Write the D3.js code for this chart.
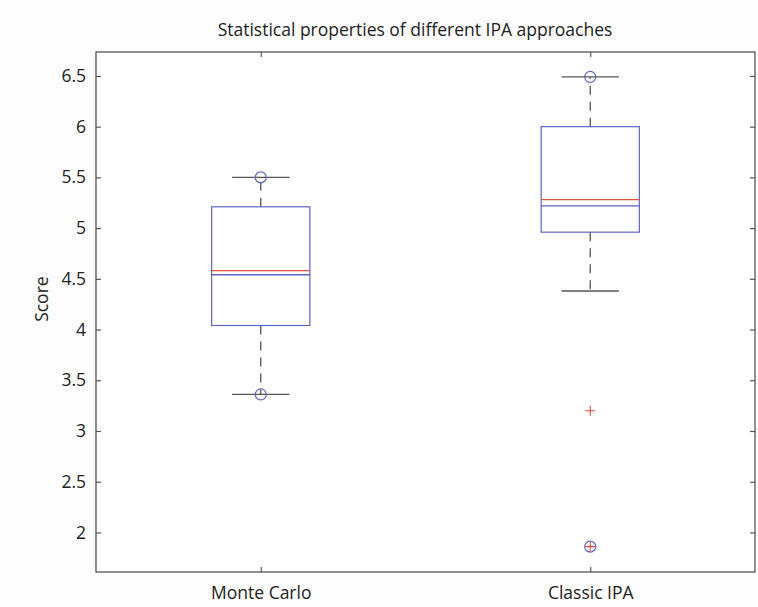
<!DOCTYPE html>
<html>
<head>
<meta charset="utf-8">
<script src="https://cdn.jsdelivr.net/npm/d3@7"></script>
<style>
  html, body { margin: 0; padding: 0; background: #fdfdfd; }
  svg { display: block; }
  text { font-family: "Open Sans", "DejaVu Sans", sans-serif; fill: #222; }
</style>
</head>
<body>
<svg id="chart" width="758" height="607"></svg>
<script>
// Groups and their summary statistics
const categories = ["Monte Carlo", "Classic IPA"];
const upperWhisker = [5.50, 6.49];
const q3 = [5.21, 6.00];
const meanLine = [4.58, 5.28];      // red line
const medianLine = [4.54, 5.22];    // blue line
const q1 = [4.04, 4.96];
const lowerWhisker = [3.36, 4.38];
// circled points (extreme values)
const circledPoints = [[5.50, 3.36], [6.49, 1.86]];
// outliers drawn as red plus marks
const outliers = [[], [3.20, 1.86]];
const yTicks = [2, 2.5, 3, 3.5, 4, 4.5, 5, 5.5, 6, 6.5];

const svg = d3.select("#chart");
const margin = { left: 96, right: 3, top: 52, bottom: 35 };
const W = 758, H = 607;
const plotW = W - margin.left - margin.right;
const plotH = H - margin.top - margin.bottom;

const x = d3.scaleLinear().domain([0.5, 2.5]).range([margin.left, margin.left + plotW]);
const y = d3.scaleLinear().domain([1.61, 6.736]).range([margin.top + plotH, margin.top]);

const boxHalf = 0.149;
const capHalf = 0.087;
const boxColor = "#5f63c4";
const redColor = "#e2503f";
const whiskerColor = "#555";
const fontSize = 17.5;

// white plot area
svg.append("rect")
  .attr("x", margin.left).attr("y", margin.top)
  .attr("width", plotW).attr("height", plotH)
  .attr("fill", "#fff");

const g = svg.append("g");

categories.forEach((c, i) => {
  const cx = x(i + 1);
  // dashed whiskers
  g.append("line")
    .attr("x1", cx).attr("x2", cx)
    .attr("y1", y(q3[i])).attr("y2", y(upperWhisker[i]))
    .attr("stroke", whiskerColor).attr("stroke-width", 1.3)
    .attr("stroke-dasharray", "9,7");
  g.append("line")
    .attr("x1", cx).attr("x2", cx)
    .attr("y1", y(q1[i])).attr("y2", y(lowerWhisker[i]))
    .attr("stroke", whiskerColor).attr("stroke-width", 1.3)
    .attr("stroke-dasharray", "9,7");
  // whisker caps
  [upperWhisker[i], lowerWhisker[i]].forEach(v => {
    g.append("line")
      .attr("x1", x(i + 1 - capHalf)).attr("x2", x(i + 1 + capHalf))
      .attr("y1", y(v)).attr("y2", y(v))
      .attr("stroke", whiskerColor).attr("stroke-width", 1.3);
  });
  // box
  g.append("rect")
    .attr("x", x(i + 1 - boxHalf)).attr("y", y(q3[i]))
    .attr("width", x(i + 1 + boxHalf) - x(i + 1 - boxHalf))
    .attr("height", y(q1[i]) - y(q3[i]))
    .attr("fill", "none").attr("stroke", boxColor).attr("stroke-width", 1.2);
  // red and blue centre lines
  g.append("line")
    .attr("x1", x(i + 1 - boxHalf)).attr("x2", x(i + 1 + boxHalf))
    .attr("y1", y(meanLine[i])).attr("y2", y(meanLine[i]))
    .attr("stroke", redColor).attr("stroke-width", 1.3);
  g.append("line")
    .attr("x1", x(i + 1 - boxHalf)).attr("x2", x(i + 1 + boxHalf))
    .attr("y1", y(medianLine[i])).attr("y2", y(medianLine[i]))
    .attr("stroke", boxColor).attr("stroke-width", 1.3);
  // outlier plus marks
  outliers[i].forEach(v => {
    g.append("path")
      .attr("d", `M${cx - 5},${y(v)}H${cx + 5}M${cx},${y(v) - 5}V${y(v) + 5}`)
      .attr("stroke", redColor).attr("stroke-width", 1.1).attr("fill", "none");
  });
  // circled extremes
  circledPoints[i].forEach(v => {
    g.append("circle")
      .attr("cx", cx).attr("cy", y(v)).attr("r", 5.5)
      .attr("fill", "none").attr("stroke", boxColor).attr("stroke-width", 1.2);
  });
});

// frame
svg.append("rect")
  .attr("x", margin.left).attr("y", margin.top)
  .attr("width", plotW).attr("height", plotH)
  .attr("fill", "none").attr("stroke", "#555").attr("stroke-width", 1.3);

// axes with inward ticks, mirrored on the opposite sides
const tickLen = 5;
const yAxisL = d3.axisLeft(y).tickValues(yTicks).tickSize(-tickLen).tickPadding(10).tickFormat(d3.format("~g"));
const yAxisR = d3.axisRight(y).tickValues(yTicks).tickSize(-tickLen).tickFormat("");
const xAxisB = d3.axisBottom(x).tickValues([1, 2]).tickSize(-tickLen).tickPadding(15)
  .tickFormat(d => categories[d - 1]);
const xAxisT = d3.axisTop(x).tickValues([1, 2]).tickSize(-tickLen).tickFormat("");

function styleAxis(sel) {
  sel.select(".domain").remove();
  sel.selectAll(".tick line").attr("stroke", "#555").attr("stroke-width", 1.2);
  sel.selectAll(".tick text").attr("font-size", fontSize).attr("fill", "#222")
    .style("font-family", '"Open Sans", "DejaVu Sans", sans-serif');
}

svg.append("g").attr("transform", `translate(${margin.left},0)`).call(yAxisL).call(styleAxis);
svg.append("g").attr("transform", `translate(${margin.left + plotW},0)`).call(yAxisR).call(styleAxis);
svg.append("g").attr("transform", `translate(0,${margin.top + plotH})`).call(xAxisB).call(styleAxis);
svg.append("g").attr("transform", `translate(0,${margin.top})`).call(xAxisT).call(styleAxis);

// title and axis label
svg.append("text")
  .attr("x", 415).attr("y", 36)
  .attr("text-anchor", "middle").attr("font-size", fontSize)
  .text("Statistical properties of different IPA approaches");

svg.append("text")
  .attr("transform", `translate(48,${y(4.3)}) rotate(-90)`)
  .attr("text-anchor", "middle").attr("font-size", fontSize)
  .text("Score");
</script>
</body>
</html>
